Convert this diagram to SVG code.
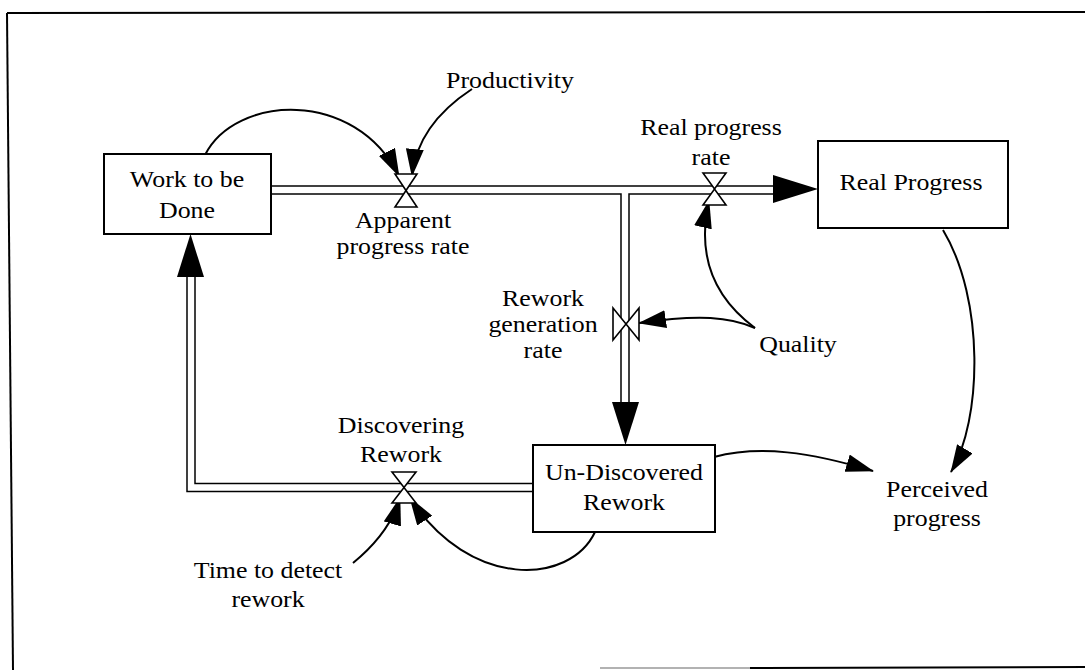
<svg xmlns="http://www.w3.org/2000/svg" width="1085" height="670" viewBox="0 0 1085 670">
<style>
.t{font-family:"Liberation Serif","Times New Roman",serif;font-size:22.5px;fill:#000;text-anchor:middle}
.box{fill:#fff;stroke:#000;stroke-width:2}
.pipeO{fill:none;stroke:#000;stroke-width:9.5;stroke-linejoin:miter}
.pipeI{fill:none;stroke:#fff;stroke-width:6.5;stroke-linejoin:miter}
.valve{fill:#fff;stroke:#000;stroke-width:1.6;stroke-linejoin:miter}
.link{fill:none;stroke:#000;stroke-width:2}
.head{fill:#000}
.frame{stroke:#000;stroke-width:2;fill:none}
</style>
<defs>
<marker id="ah" markerUnits="userSpaceOnUse" viewBox="0 0 28 18" refX="27" refY="9" markerWidth="28" markerHeight="18" orient="auto">
<path d="M0,0 L28,9 L0,18 z" fill="#000"/>
</marker>
</defs>
<rect width="1085" height="670" fill="#fff"/>
<g id="frame">
<path class="frame" d="M7,13 L1085,12"/>
<path class="frame" d="M7,13 L13,670"/>
<path d="M600,668 L750,668" stroke="#999" stroke-width="1.5"/>
<path d="M750,668 L1085,667" stroke="#000" stroke-width="2"/>
</g>
<g id="flows">
<path class="pipeO" d="M271,190 L775,190"/>
<path class="pipeO" d="M625,190 L625,404"/>
<path class="pipeO" d="M533,487.5 L191,487.5 L191,275"/>
<path class="pipeI" d="M270,190 L776,190"/>
<path class="pipeI" d="M625,190 L625,405"/>
<path class="pipeI" d="M534,487.5 L191,487.5 L191,274"/>
<polygon class="head" points="773,175 818,189 773,203"/>
<polygon class="head" points="612,402 639,402 625.5,445"/>
<polygon class="head" points="177,277 204,277 190.5,234"/>
</g>
<g id="connectors">
<path class="link" d="M205,155 C235,95 355,88 399,176" marker-end="url(#ah)"/>
<path class="link" d="M472,89 C440,110 416,138 412,176" marker-end="url(#ah)"/>
<path class="link" d="M755,328 C730,317 700,314 639,323" marker-end="url(#ah)"/>
<path class="link" d="M755,328 C720,302 695,262 709,201" marker-end="url(#ah)"/>
<path class="link" d="M943,230 C985,300 982,420 951,472" marker-end="url(#ah)"/>
<path class="link" d="M714,457 C760,445 810,452 873,471" marker-end="url(#ah)"/>
<path class="link" d="M595,532 C570,585 470,590 410,498" marker-end="url(#ah)"/>
<path class="link" d="M353,563 C375,545 392,525 400,498" marker-end="url(#ah)"/>
</g>
<g id="work-to-be-done">
<rect class="box" x="104" y="154" width="167" height="80"/>
<text class="t" transform="translate(187,187) scale(1.15,1)"><tspan x="0" y="0">Work to be</tspan><tspan x="0" y="31">Done</tspan></text>
</g>
<g id="real-progress">
<rect class="box" x="818" y="141" width="190" height="87"/>
<text class="t" transform="translate(911,190) scale(1.15,1)">Real Progress</text>
</g>
<g id="undiscovered-rework">
<rect class="box" x="533" y="445" width="182" height="87"/>
<text class="t" transform="translate(624,480) scale(1.15,1)"><tspan x="0" y="0">Un-Discovered</tspan><tspan x="0" y="30">Rework</tspan></text>
</g>
<g id="apparent-progress-rate">
<polygon class="valve" points="395,174 417,174 406,190.5"/>
<polygon class="valve" points="395,207 417,207 406,190.5"/>
<text class="t" transform="translate(403,228) scale(1.15,1)"><tspan x="0" y="0">Apparent</tspan><tspan x="0" y="26">progress rate</tspan></text>
</g>
<g id="real-progress-rate">
<polygon class="valve" points="703,173 726,173 714.5,189"/>
<polygon class="valve" points="703,205 726,205 714.5,189"/>
<text class="t" transform="translate(711,135) scale(1.15,1)"><tspan x="0" y="0">Real progress</tspan><tspan x="0" y="30">rate</tspan></text>
</g>
<g id="rework-generation-rate">
<polygon class="valve" points="613,308 613,340 626,324"/>
<polygon class="valve" points="639,308 639,340 626,324"/>
<text class="t" transform="translate(543,306) scale(1.15,1)"><tspan x="0" y="0">Rework</tspan><tspan x="0" y="26">generation</tspan><tspan x="0" y="52">rate</tspan></text>
</g>
<g id="discovering-rework">
<polygon class="valve" points="392,472 416,472 404,487.5"/>
<polygon class="valve" points="392,503 416,503 404,487.5"/>
<text class="t" transform="translate(401,433) scale(1.15,1)"><tspan x="0" y="0">Discovering</tspan><tspan x="0" y="29">Rework</tspan></text>
</g>
<g id="productivity">
<text class="t" transform="translate(510,88) scale(1.15,1)">Productivity</text>
</g>
<g id="quality">
<text class="t" transform="translate(798,352) scale(1.15,1)">Quality</text>
</g>
<g id="time-to-detect-rework">
<text class="t" transform="translate(268,578) scale(1.15,1)"><tspan x="0" y="0">Time to detect</tspan><tspan x="0" y="29">rework</tspan></text>
</g>
<g id="perceived-progress">
<text class="t" transform="translate(937,497) scale(1.15,1)"><tspan x="0" y="0">Perceived</tspan><tspan x="0" y="29">progress</tspan></text>
</g>
</svg>
